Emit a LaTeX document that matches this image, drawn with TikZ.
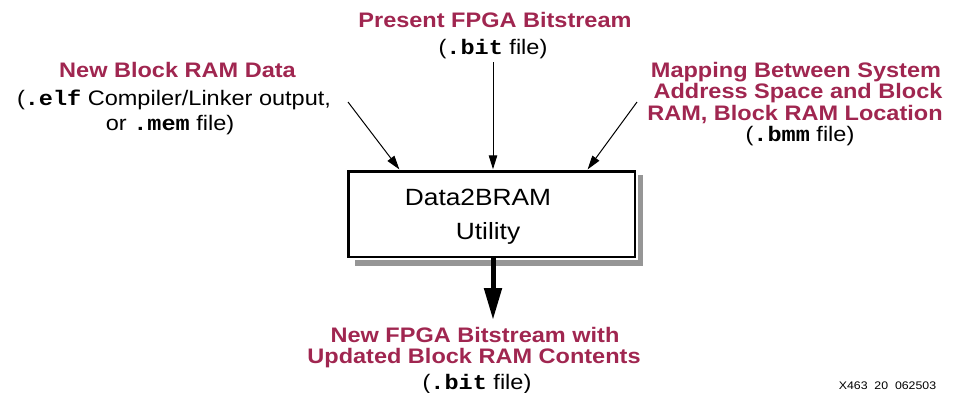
\documentclass[tikz,border=0pt]{standalone}
\usepackage{fontspec}
\setmainfont{Liberation Sans}[FakeStretch=1.12]
\setmonofont{Liberation Mono}[FakeStretch=1.12]
\usetikzlibrary{arrows.meta}
\definecolor{xred}{RGB}{160,38,80}
\definecolor{shadowgray}{RGB}{150,150,150}
\newcommand{\fn}[1]{\texttt{\bfseries #1}}
\begin{document}
\begin{tikzpicture}[x=1pt,y=-1pt,
  redt/.style={font=\bfseries\fontsize{21}{22}\selectfont, text=xred, anchor=base, inner sep=0pt},
  blkt/.style={font=\fontsize{21}{22}\selectfont, anchor=base, inner sep=0pt},
  boxt/.style={font=\fontsize{23.5}{24}\selectfont, anchor=base, inner sep=0pt},
  thin arrow/.style={line width=1pt, -{Triangle[length=14pt,width=8.5pt]}, shorten >=1pt},
  thick arrow/.style={line width=5pt, -{Triangle[length=32pt,width=17pt]}}]
\useasboundingbox (0,0) rectangle (956,392);
% shadow and box
\fill[shadowgray] (355,175) rectangle (643,266);
\node[draw=black, line width=2.5pt, fill=white, preaction={draw=white, line width=5.5pt},
      minimum width=286.5pt, minimum height=85.5pt, inner sep=0pt] (box) at (491.75,214.25) {};
\node[boxt] (boxa) at (478,205) {Data2BRAM};
\node[boxt] (boxb) at (488,239.5) {Utility};
% top text
\node[redt] (t1) at (495,27) {Present FPGA Bitstream};
\node[blkt] (t2) at (493,54) {(\fn{.bit} file)};
% left text
\node[redt] (l1) at (177.5,77) {New Block RAM Data};
\node[blkt] (l2) at (174,105) {(\fn{.elf} Compiler/Linker output,};
\node[blkt] (l3) at (170,130) {or \fn{.mem} file)};
% right text
\node[redt] (r1) at (796,77) {Mapping Between System};
\node[redt] (r2) at (798,98.5) {Address Space and Block};
\node[redt] (r3) at (795,120) {RAM, Block RAM Location};
\node[blkt] (r4) at (800,141) {(\fn{.bmm} file)};
% bottom text
\node[redt] (b1) at (475,342) {New FPGA Bitstream with};
\node[redt] (b2) at (474,363) {Updated Block RAM Contents};
\node[blkt] (b3) at (477,389) {(\fn{.bit} file)};
% figure id
\node[font=\fontsize{11}{12}\selectfont, anchor=base, inner sep=0pt] (fid) at (887.5,389) {X463\ \ 20\ \ 062503};
% arrow sources
\coordinate (lsrc) at (348,102);
\coordinate (tsrc) at (493,62);
\coordinate (rsrc) at (637,102);
\coordinate (btip) at (493,320);
\draw[thin arrow] (lsrc) -- (box.north -| 400,0);
\draw[thin arrow] (tsrc) -- (box.north -| 493,0);
\draw[thin arrow] (rsrc) -- (box.north -| 587,0);
\draw[thick arrow] (box.south -| 493,0) -- (btip);
\end{tikzpicture}
\end{document}
